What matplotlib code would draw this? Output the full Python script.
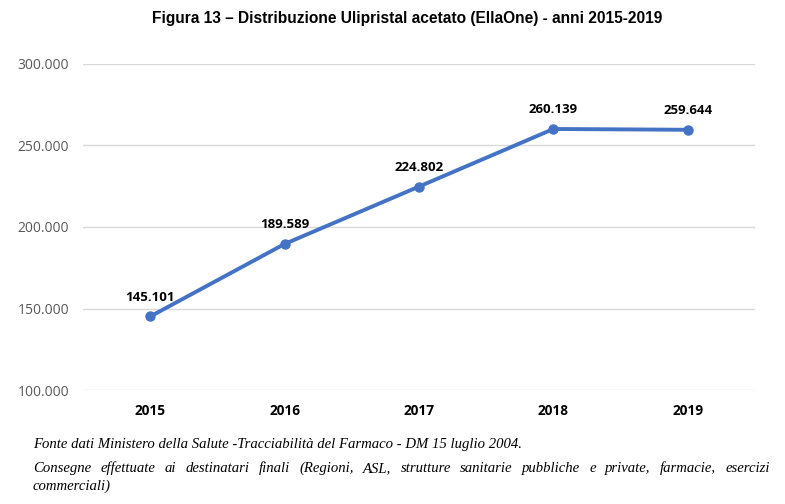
import matplotlib
matplotlib.use("Agg")
import matplotlib.pyplot as plt
from matplotlib.ticker import FuncFormatter

years = ["2015", "2016", "2017", "2018", "2019"]
values = [145101, 189589, 224802, 260139, 259644]
yticks = [100000, 150000, 200000, 250000, 300000]

title = "Figura 13 \u2013 Distribuzione Ulipristal acetato (EllaOne) - anni 2015-2019"
note1 = "Fonte dati Ministero della Salute -Tracciabilit\u00e0 del Farmaco - DM 15 luglio 2004."
note2 = "Consegne effettuate ai destinatari finali (Regioni, ASL, strutture sanitarie pubbliche e private, farmacie, esercizi"
note3 = "commerciali)"

def fmt(v):
    return f"{int(v):,}".replace(",", ".")

fig = plt.figure(figsize=(7.85, 5.04), dpi=100)
ax = fig.add_axes([83/785, 1-390/504, (755-83)/785, (390-64)/504])

x = list(range(len(years)))
ax.plot(x, values, color="#4472C4", lw=2.8, marker="o", ms=6.5, zorder=3)
for xi, v in zip(x, values):
    ax.annotate(fmt(v), (xi, v), xytext=(0, 9), textcoords="offset points",
                ha="center", va="bottom", fontsize=9.5, fontweight="bold",
                family="Open Sans", color="black")

ax.set_xlim(-0.5, len(years) - 0.5)
ax.set_ylim(yticks[0], yticks[-1])
ax.set_yticks(yticks)
ax.yaxis.set_major_formatter(FuncFormatter(lambda v, p: fmt(v)))
ax.set_xticks(x)
ax.set_xticklabels(years, fontweight="bold", family="Open Sans", fontsize=9.8, color="black")
for lab in ax.get_yticklabels():
    lab.set_family("Open Sans")
    lab.set_fontsize(10)
    lab.set_color("#595959")
ax.tick_params(axis="both", length=0)
ax.tick_params(axis="y", pad=10)
ax.tick_params(axis="x", pad=10)
ax.grid(axis="y", color="#D9D9D9", lw=1)
ax.set_axisbelow(True)
for s in ax.spines.values():
    s.set_visible(False)

fig.text(407/785, 1-18/504, title, ha="center", va="center", fontsize=11.2,
         fontweight="bold", family="Liberation Sans")

fs = 10.6
fig.text(33/785, 1-448/504, note1, ha="left", va="baseline", fontsize=fs,
         style="italic", family="Liberation Serif")
# justified second line
fig.canvas.draw()
r = fig.canvas.get_renderer()
words = note2.split(" ")
x0, x1 = 33, 770
ypix = 1 - 472/504
arts = []
for w in words:
    t = fig.text(0, ypix, w, ha="left", va="baseline", fontsize=fs,
                 style="italic", family="Liberation Serif")
    arts.append(t)
widths = [a.get_window_extent(r).width for a in arts]
gap = (x1 - x0 - sum(widths)) / (len(words) - 1)
cur = x0
for a, wd in zip(arts, widths):
    a.set_x(cur / 785)
    cur += wd + gap
fig.text(33/785, 1-490/504, note3, ha="left", va="baseline", fontsize=fs,
         style="italic", family="Liberation Serif")

fig.savefig("out.png", dpi=100)
